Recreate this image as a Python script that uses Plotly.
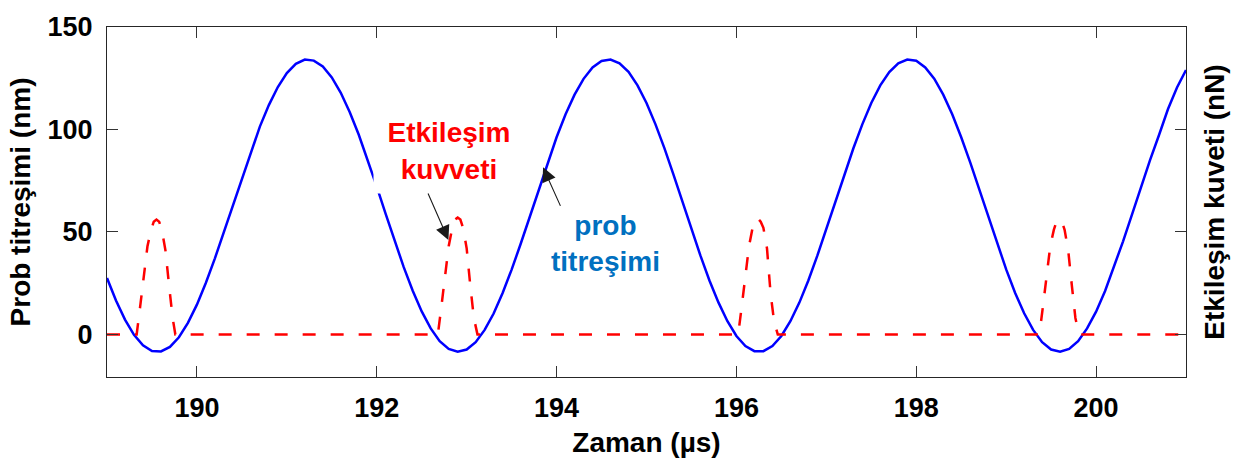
import plotly.graph_objects as go

# Probe oscillation (nm), sampled every 0.1 µs from 189.0 to 201.0
probe_t = [round(189.0 + 0.1 * i, 1) for i in range(121)]
probe_nm = [
    27.5, 16.5, 7.2, -0.2, -5.3, -8.1, -8.3, -6.1, -1.4, 5.6,
    14.5, 25.2, 37.1, 50.0, 63.4, 76.7, 89.5, 101.4, 111.9, 120.7,
    127.5, 132.0, 134.1, 133.6, 130.7, 125.4, 117.9, 108.4, 97.4, 85.1,
    72.1, 58.7, 45.5, 32.8, 21.3, 11.2, 2.9, -3.3, -7.1, -8.5,
    -7.4, -3.8, 2.2, 10.2, 20.2, 31.6, 44.1, 57.3, 70.7, 83.8,
    96.2, 107.4, 117.0, 124.7, 130.3, 133.4, 134.1, 132.3, 128.1, 121.5,
    112.9, 102.5, 90.8, 78.0, 64.7, 51.4, 38.4, 26.3, 15.6, 6.4,
    -0.8, -5.7, -8.2, -8.2, -5.7, -0.8, 6.4, 15.5, 26.3, 38.4,
    51.3, 64.7, 77.9, 90.7, 102.5, 112.9, 121.5, 128.0, 132.3, 134.1,
    133.5, 130.3, 124.8, 117.0, 107.4, 96.2, 83.9, 70.8, 57.4, 44.2,
    31.7, 20.2, 10.3, 2.2, -3.8, -7.4, -8.5, -7.1, -3.3, 2.9,
    11.1, 21.2, 32.8, 45.4, 58.6, 72.0, 85.0, 97.3, 110.0, 120.5,
    129.0,
]

# Interaction force (nN): zero baseline with one pulse per contact
force_t = [
    189.00,
    189.33, 189.37, 189.41, 189.45, 189.49, 189.52, 189.55, 189.58, 189.61, 189.65, 189.69, 189.73, 189.76,
    192.68, 192.72, 192.76, 192.80, 192.84, 192.87, 192.90, 192.93, 192.96, 193.00, 193.04, 193.08, 193.12,
    196.02, 196.06, 196.10, 196.14, 196.18, 196.21, 196.24, 196.27, 196.30, 196.34, 196.38, 196.42, 196.46,
    199.37, 199.41, 199.45, 199.49, 199.53, 199.56, 199.59, 199.62, 199.65, 199.69, 199.73, 199.77, 199.81,
    201.00,
]
force_nN = [
    0,
    0, 14, 29, 43, 51, 55, 56, 55, 51, 41, 24, 8, 0,
    0, 14, 29, 43, 52, 56, 57, 56, 52, 42, 24, 8, 0,
    0, 14, 29, 43, 52, 56, 56.5, 55, 52, 42, 20, 6, 0,
    0, 14, 29, 43, 51, 55, 56, 55, 51, 41, 24, 8, 0,
    0,
]

x_ticks = [190, 192, 194, 196, 198, 200]
y_ticks = [0, 50, 100, 150]

FONT = "Arial, 'Liberation Sans', sans-serif"
bold = dict(family=FONT, size=27, color="#000000", weight="bold")
title_font = dict(family=FONT, size=28, color="#000000", weight="bold")

fig = go.Figure()
fig.add_trace(go.Scatter(
    x=probe_t, y=probe_nm, mode="lines",
    line=dict(color="#0000FF", width=2.5), showlegend=False,
))
fig.add_trace(go.Scatter(
    x=force_t, y=force_nN, mode="lines", yaxis="y2",
    line=dict(color="#FF0000", width=2.5, dash="13px,15px"), showlegend=False,
))

axis_common = dict(
    showgrid=False, zeroline=False, showline=True, linecolor="#262626", linewidth=1.3,
    ticks="inside", ticklen=11, tickwidth=1.2, tickcolor="#333333", mirror="ticks",
    tickfont=bold,
)

fig.update_layout(
    width=1247, height=465,
    margin=dict(l=107, r=61, t=16, b=88),
    paper_bgcolor="white", plot_bgcolor="white",
    xaxis=dict(
        range=[189, 201], tickvals=x_ticks, ticklabelstandoff=6,
        title=dict(text="Zaman (µs)", font=title_font, standoff=10),
        **axis_common,
    ),
    yaxis=dict(
        range=[-20.8, 150], tickvals=y_ticks, ticklabelstandoff=8,
        title=dict(text="Prob titreşimi (nm)", font=title_font, standoff=8),
        **axis_common,
    ),
    yaxis2=dict(
        range=[-20.8, 150], overlaying="y", side="right",
        showgrid=False, zeroline=False, showline=False, ticks="", showticklabels=False,
        title=dict(text="Etkileşim kuveti (nN)", font=title_font, standoff=18),
    ),
)

# Labels with pointer arrows
fig.add_annotation(
    x=192.805, y=89.5, xref="x", yref="y",
    text="Etkileşim<br>kuvveti", showarrow=False,
    font=dict(family=FONT, size=28, color="#FF0000", weight="bold"),
    bgcolor="white", width=150, height=84, borderpad=0,
)
fig.add_annotation(
    x=192.797, y=46.1, xref="x", yref="y", text="",
    showarrow=True, arrowhead=2, arrowsize=2.6, arrowwidth=1.1, arrowcolor="#1a1a1a",
    ax=-21, ay=-48,
)
fig.add_annotation(
    x=194.544, y=44.5, xref="x", yref="y",
    text="prob<br>titreşimi", showarrow=False,
    font=dict(family=FONT, size=28, color="#0070C0", weight="bold"),
)
fig.add_annotation(
    x=193.85, y=81.5, xref="x", yref="y", text="",
    showarrow=True, arrowhead=2, arrowsize=2.6, arrowwidth=1.1, arrowcolor="#1a1a1a",
    ax=18, ay=40,
)

fig.write_html("out.html")
